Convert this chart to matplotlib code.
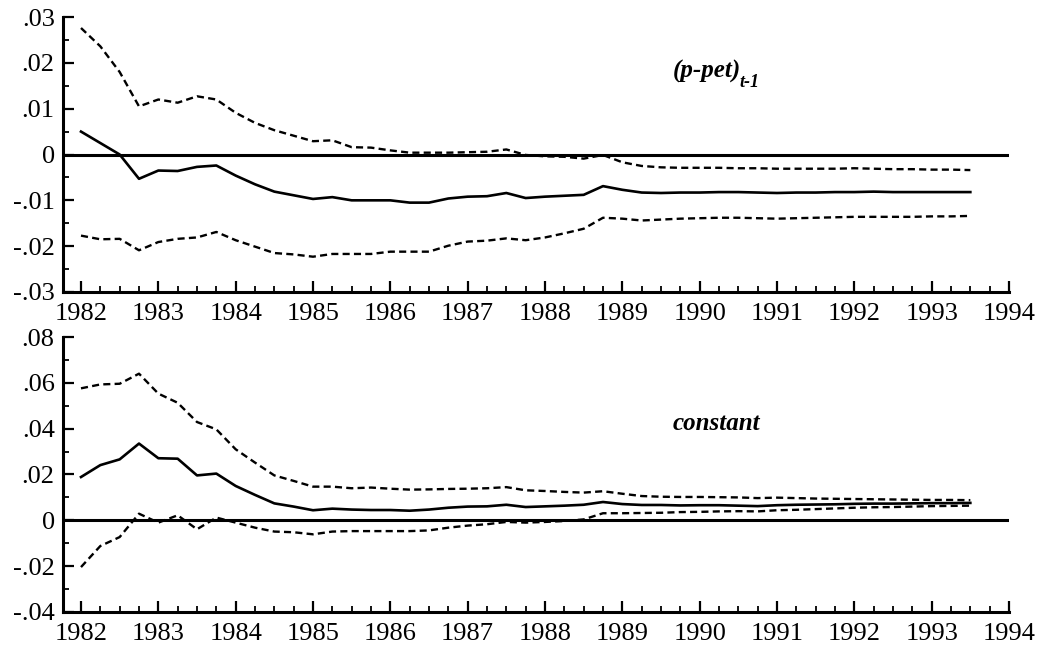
import matplotlib
matplotlib.use("Agg")
import matplotlib.pyplot as plt
import numpy as np
from matplotlib.ticker import FixedLocator, MultipleLocator

# ---------------- data ----------------
quarters = [1982 + 0.25 * i for i in range(47)]  # 1982Q1 .. 1993Q3

ppet_coef = [0.0050, 0.0025, 0.0000, -0.0053, -0.0035, -0.0036, -0.0027, -0.0024,
             -0.0046, -0.0065, -0.0081, -0.0089, -0.0097, -0.0093, -0.0100,
             -0.0100, -0.0100, -0.0105, -0.0105, -0.0096, -0.0092, -0.0091, -0.0084,
             -0.0095, -0.0092, -0.0090, -0.0088, -0.0069, -0.0077, -0.0083, -0.0084,
             -0.0083,
             -0.0083, -0.0082, -0.0082, -0.0083, -0.0084, -0.0083, -0.0083, -0.0082,
             -0.0082, -0.0081, -0.0082, -0.0082, -0.0082, -0.0082, -0.0082]
ppet_upper = [0.0276, 0.0236, 0.0180, 0.0105, 0.0120, 0.0113, 0.0127, 0.0120,
              0.0091, 0.0069, 0.0053, 0.0041, 0.0029, 0.0031, 0.0016,
              0.0015, 0.0009, 0.0004, 0.0004, 0.0004, 0.0005, 0.0006, 0.0011,
              -0.0001, -0.0004, -0.0005, -0.0009, -0.0001, -0.0017, -0.0025, -0.0028,
              -0.0029,
              -0.0029, -0.0029, -0.0030, -0.0030, -0.0031, -0.0031, -0.0031, -0.0031,
              -0.0030, -0.0031, -0.0032, -0.0032, -0.0033, -0.0033, -0.0034]
ppet_lower = [-0.0177, -0.0185, -0.0184, -0.0209, -0.0191, -0.0184, -0.0181, -0.0169,
              -0.0187, -0.0201, -0.0215, -0.0218, -0.0223, -0.0217, -0.0217,
              -0.0217, -0.0212, -0.0212, -0.0212, -0.0199, -0.0190, -0.0188, -0.0183,
              -0.0187, -0.0181, -0.0172, -0.0162, -0.0138, -0.0140, -0.0144, -0.0142,
              -0.0140,
              -0.0139, -0.0138, -0.0138, -0.0139, -0.0140, -0.0139, -0.0138, -0.0137,
              -0.0136, -0.0136, -0.0136, -0.0136, -0.0135, -0.0135, -0.0134]

const_coef = [0.0189, 0.0241, 0.0266, 0.0335, 0.0271, 0.0269, 0.0196, 0.0204,
              0.0150, 0.0111, 0.0074, 0.0060, 0.0044, 0.0051, 0.0047,
              0.0045, 0.0045, 0.0042, 0.0047, 0.0055, 0.0060, 0.0061, 0.0068,
              0.0058, 0.0061, 0.0064, 0.0068, 0.0080, 0.0071, 0.0067, 0.0067,
              0.0065,
              0.0066, 0.0066, 0.0064, 0.0062, 0.0066, 0.0068, 0.0069, 0.0070,
              0.0072, 0.0073, 0.0073, 0.0074, 0.0075, 0.0075, 0.0076]
const_upper = [0.0576, 0.0593, 0.0596, 0.0640, 0.0553, 0.0513, 0.0429, 0.0397,
               0.0310, 0.0252, 0.0196, 0.0172, 0.0147, 0.0147, 0.0140,
               0.0143, 0.0138, 0.0134, 0.0135, 0.0137, 0.0138, 0.0140, 0.0145,
               0.0131, 0.0128, 0.0124, 0.0121, 0.0127, 0.0116, 0.0106, 0.0103,
               0.0102,
               0.0102, 0.0101, 0.0100, 0.0097, 0.0099, 0.0097, 0.0095, 0.0094,
               0.0093, 0.0092, 0.0091, 0.0090, 0.0089, 0.0089, 0.0088]
const_lower = [-0.0204, -0.0112, -0.0073, 0.0029, -0.0010, 0.0022, -0.0039, 0.0012,
               -0.0010, -0.0032, -0.0049, -0.0052, -0.0061, -0.0049, -0.0047,
               -0.0047, -0.0047, -0.0047, -0.0044, -0.0032, -0.0023, -0.0017, -0.0007,
               -0.0010, -0.0007, -0.0003, 0.0004, 0.0031, 0.0031, 0.0032, 0.0033,
               0.0036,
               0.0037, 0.0039, 0.0040, 0.0039, 0.0044, 0.0046, 0.0049, 0.0052,
               0.0055, 0.0057, 0.0058, 0.0060, 0.0062, 0.0063, 0.0064]

year_ticks = list(range(1982, 1995))
year_labels = [str(y) for y in year_ticks]
top_yticks = [-0.03, -0.02, -0.01, 0.0, 0.01, 0.02, 0.03]
top_ylabels = ["-.03", "-.02", "-.01", "0", ".01", ".02", ".03"]
bot_yticks = [-0.04, -0.02, 0.0, 0.02, 0.04, 0.06, 0.08]
bot_ylabels = ["-.04", "-.02", "0", ".02", ".04", ".06", ".08"]

# ---------------- style ----------------
plt.rcParams["font.family"] = ["Liberation Serif", "DejaVu Serif"]
FS = 19

W, H = 1044, 646
fig = plt.figure(figsize=(W / 100, H / 100), dpi=100)
fig.patch.set_facecolor("white")

left_px, right_px = 63, 1009
x0 = 1982 - (81 - 63) / 77.33


def make_ax(top_px, bot_px):
    return fig.add_axes([left_px / W, 1 - bot_px / H,
                         (right_px - left_px) / W, (bot_px - top_px) / H])


def style(ax, yticks, ylabels, ylim, yminor):
    ax.set_xlim(x0, 1994)
    ax.set_ylim(*ylim)
    for s in ["top", "right"]:
        ax.spines[s].set_visible(False)
    for s in ["left", "bottom"]:
        ax.spines[s].set_linewidth(2.2)
    ax.set_xticks(year_ticks)
    ax.set_xticklabels(year_labels)
    ax.xaxis.set_minor_locator(MultipleLocator(0.25))
    ax.set_yticks(yticks)
    ax.set_yticklabels(ylabels)
    ax.yaxis.set_minor_locator(MultipleLocator(yminor))
    ax.tick_params(axis="both", which="major", direction="in", length=8,
                   width=1.6, labelsize=FS, pad=6)
    ax.tick_params(axis="both", which="minor", direction="in", length=4,
                   width=1.3)
    ax.tick_params(axis="x", which="major", pad=8)
    ax.axhline(0, color="black", lw=2.2, zorder=1)


dash = (0, (3.0, 1.8))

ax1 = make_ax(17, 292)
ax1.plot(quarters, ppet_coef, color="black", lw=1.9)
ax1.plot(quarters, ppet_upper, color="black", lw=1.7, linestyle=dash)
ax1.plot(quarters, ppet_lower, color="black", lw=1.7, linestyle=dash)
style(ax1, top_yticks, top_ylabels, (-0.03, 0.03), 0.005)
ax1.text(1989.655, 0.0167, "(p-pet)", fontsize=18, style="italic",
         weight="bold", va="baseline", ha="left")
ax1.text(1990.52, 0.0148, "t-1", fontsize=13, style="italic",
         weight="bold", va="baseline", ha="left")

ax2 = make_ax(337, 612)
ax2.plot(quarters, const_coef, color="black", lw=1.9)
ax2.plot(quarters, const_upper, color="black", lw=1.7, linestyle=dash)
ax2.plot(quarters, const_lower, color="black", lw=1.7, linestyle=dash)
style(ax2, bot_yticks, bot_ylabels, (-0.04, 0.08), 0.01)
ax2.text(1989.655, 0.0393, "constant", fontsize=18, style="italic",
         weight="bold", va="baseline", ha="left")

fig.savefig("out.png", dpi=100, facecolor="white")
